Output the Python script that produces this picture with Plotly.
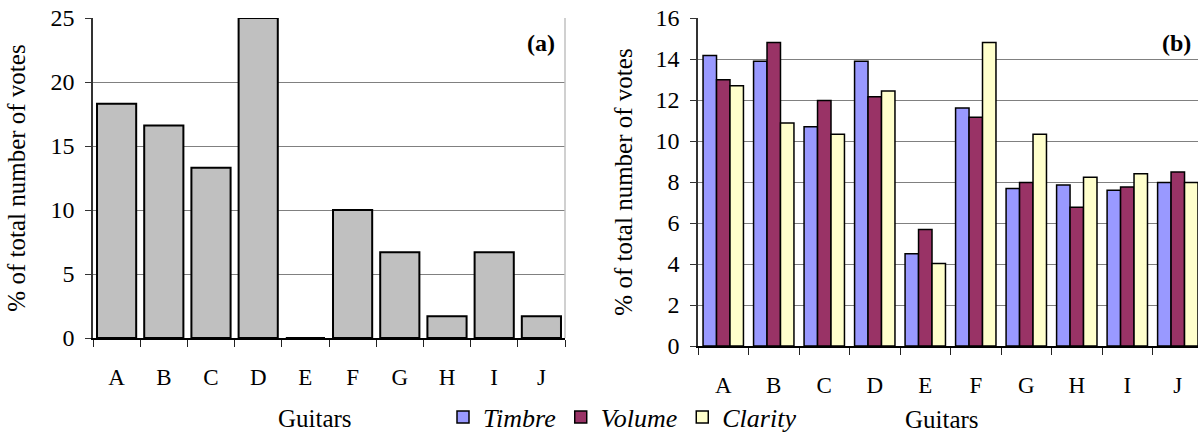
import plotly.graph_objects as go

guitars = ["A", "B", "C", "D", "E", "F", "G", "H", "I", "J"]
votes_total = [18.3, 16.6, 13.3, 25.0, 0.0, 10.0, 6.7, 1.7, 6.7, 1.7]
timbre = [14.17, 13.89, 10.70, 13.89, 4.50, 11.61, 7.68, 7.85, 7.60, 7.97]
volume = [12.99, 14.80, 11.98, 12.16, 5.68, 11.16, 7.97, 6.77, 7.76, 8.49]
clarity = [12.70, 10.88, 10.33, 12.44, 4.03, 14.80, 10.33, 8.23, 8.40, 7.97]
left_ticks = [0, 5, 10, 15, 20, 25]
right_ticks = [0, 2, 4, 6, 8, 10, 12, 14, 16]

W, H = 1198, 433
FONT = "Liberation Serif"

def px_x(p):
    return p / W

def px_y(p):
    return (H - p) / H

fig = go.Figure()

fig.add_trace(go.Bar(x=guitars, y=votes_total, xaxis="x", yaxis="y",
                     marker=dict(color="#C0C0C0", line=dict(color="black", width=2)),
                     width=0.83, showlegend=False))

for name, vals, col in [("Timbre", timbre, "#9999FF"),
                        ("Volume", volume, "#993366"),
                        ("Clarity", clarity, "#FFFFCC")]:
    fig.add_trace(go.Bar(x=guitars, y=vals, name=name, xaxis="x2", yaxis="y2",
                         marker=dict(color=col, line=dict(color="black", width=1.5))))

axis_font = dict(family=FONT, size=23, color="black")

common_x = dict(type="category", categoryorder="array", categoryarray=guitars,
                showline=True, linecolor="black", linewidth=1.5,
                ticks="outside", tickson="boundaries", ticklen=7, tickcolor="#222",
                tickwidth=1.2, showgrid=False, tickfont=axis_font, fixedrange=True,
                automargin=False)
common_y = dict(showline=True, linecolor="#333", linewidth=1.5, ticks="outside",
                ticklen=6, tickcolor="#333", tickwidth=1.2, showgrid=True,
                gridcolor="#808080", gridwidth=1, zeroline=False,
                tickfont=dict(family=FONT, size=24, color="black"),
                ticklabelstandoff=6, automargin=False)

fig.update_layout(
    width=W, height=H,
    margin=dict(l=0, r=0, t=0, b=0, pad=0, autoexpand=False),
    paper_bgcolor="white", plot_bgcolor="white",
    barmode="group", bargap=0.2, bargroupgap=0,
    font=dict(family=FONT, color="black"),
    xaxis=dict(common_x, domain=[px_x(93), px_x(565)], range=[-0.5, 9.5],
               anchor="y", ticklabelstandoff=18),
    yaxis=dict(common_y, domain=[px_y(338), px_y(18)], range=[0, 25],
               tickvals=left_ticks, anchor="x",
               title=dict(text="% of total number of votes",
                          font=dict(family=FONT, size=25, color="black"), standoff=18)),
    xaxis2=dict(common_x, domain=[px_x(698), 1.0], range=[-0.5, 9.4],
                anchor="y2", ticklabelstandoff=18),
    yaxis2=dict(common_y, domain=[px_y(346), px_y(18)], range=[0, 16],
                tickvals=right_ticks, anchor="x2",
                title=dict(text="% of total number of votes",
                           font=dict(family=FONT, size=25, color="black"), standoff=16)),
    legend=dict(orientation="h", x=px_x(443), xanchor="left", y=px_y(417), yanchor="middle",
                font=dict(family=FONT, size=26, color="black", style="italic"),
                itemwidth=30, tracegroupgap=0, bgcolor="rgba(0,0,0,0)"),
    annotations=[
        dict(text="<b>(a)</b>", x=px_x(557), y=px_y(43), xref="paper", yref="paper",
             xanchor="right", yanchor="middle", showarrow=False,
             font=dict(family=FONT, size=24, color="black")),
        dict(text="<b>(b)</b>", x=px_x(1193), y=px_y(43), xref="paper", yref="paper",
             xanchor="right", yanchor="middle", showarrow=False,
             font=dict(family=FONT, size=24, color="black")),
        dict(text="Guitars", x=px_x(315), y=px_y(418), xref="paper", yref="paper",
             xanchor="center", yanchor="middle", showarrow=False,
             font=dict(family=FONT, size=25, color="black")),
        dict(text="Guitars", x=px_x(942), y=px_y(419), xref="paper", yref="paper",
             xanchor="center", yanchor="middle", showarrow=False,
             font=dict(family=FONT, size=25, color="black")),
    ],
    shapes=[
        dict(type="line", xref="x domain", yref="y domain", x0=1, x1=1, y0=0, y1=1,
             line=dict(color="#C0C0C0", width=1.5)),
    ],
)

fig.write_html("out.html", config={"displayModeBar": False},
               post_script="document.body.style.margin='0';document.body.style.overflow='hidden';")
